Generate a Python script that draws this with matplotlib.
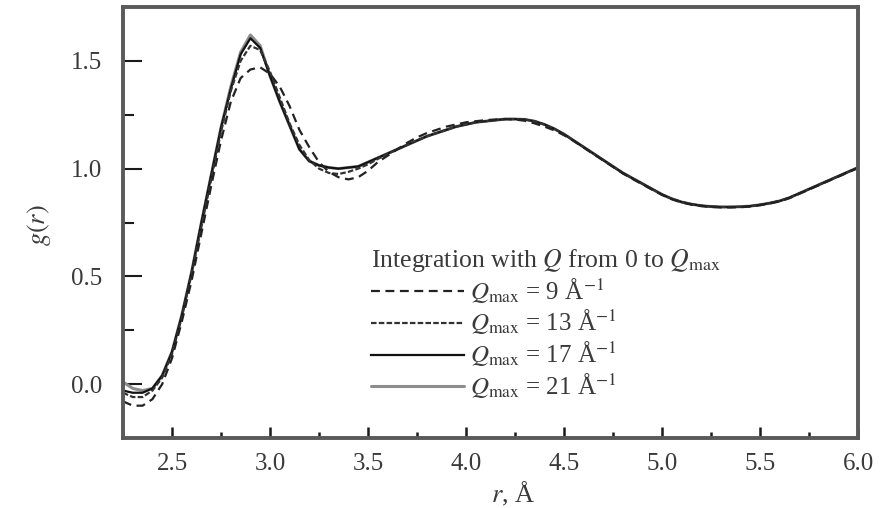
import matplotlib
matplotlib.use("Agg")
import matplotlib.pyplot as plt
from matplotlib.ticker import MultipleLocator, FormatStrFormatter

plt.rcParams["font.family"] = ["Liberation Serif", "DejaVu Serif"]
plt.rcParams["mathtext.fontset"] = "stix"

# radial distance grid, Å
r = [2.25, 2.30, 2.35, 2.40, 2.45, 2.50, 2.55, 2.60, 2.65, 2.70,
     2.75, 2.80, 2.85, 2.90, 2.95, 3.00, 3.05, 3.10, 3.15, 3.20,
     3.25, 3.30, 3.35, 3.40, 3.45, 3.50, 3.55, 3.60, 3.65, 3.70,
     3.75, 3.80, 3.85, 3.90, 3.95, 4.00, 4.05, 4.10, 4.15, 4.20,
     4.25, 4.30, 4.35, 4.40, 4.45, 4.50, 4.55, 4.60, 4.65, 4.70,
     4.75, 4.80, 4.85, 4.90, 4.95, 5.00, 5.05, 5.10, 5.15, 5.20,
     5.25, 5.30, 5.35, 5.40, 5.45, 5.50, 5.55, 5.60, 5.65, 5.70,
     5.75, 5.80, 5.85, 5.90, 5.95, 6.00]

g_q9 = [-0.08, -0.10, -0.10, -0.07, 0.00, 0.12, 0.29, 0.48, 0.70, 0.92,
        1.13, 1.31, 1.42, 1.46, 1.47, 1.44, 1.38, 1.29, 1.18, 1.10,
        1.03, 0.985, 0.96, 0.95, 0.96, 0.99, 1.03, 1.06, 1.09, 1.12,
        1.145, 1.165, 1.18, 1.195, 1.205, 1.215, 1.22, 1.225, 1.228, 1.23,
        1.228, 1.222, 1.21, 1.195, 1.178, 1.155, 1.128, 1.098, 1.068, 1.038,
        1.008, 0.978, 0.952, 0.927, 0.902, 0.878, 0.858, 0.843, 0.833, 0.826,
        0.822, 0.82, 0.82, 0.821, 0.824, 0.83, 0.838, 0.848, 0.863, 0.883,
        0.903, 0.923, 0.943, 0.963, 0.983, 1.003]

g_q13 = [-0.04, -0.06, -0.06, -0.03, 0.03, 0.14, 0.31, 0.51, 0.73, 0.95,
         1.17, 1.36, 1.50, 1.57, 1.55, 1.45, 1.33, 1.21, 1.11, 1.04,
         1.00, 0.98, 0.975, 0.985, 1.00, 1.02, 1.045, 1.068, 1.09, 1.11,
         1.13, 1.15, 1.165, 1.18, 1.195, 1.205, 1.215, 1.22, 1.225, 1.23,
         1.23, 1.228, 1.22, 1.205, 1.185, 1.16, 1.13, 1.10, 1.07, 1.04,
         1.01, 0.98, 0.955, 0.93, 0.905, 0.88, 0.86, 0.845, 0.835, 0.828,
         0.824, 0.822, 0.822, 0.823, 0.826, 0.832, 0.84, 0.85, 0.865, 0.885,
         0.905, 0.925, 0.945, 0.965, 0.985, 1.005]

g_q17 = [-0.03, -0.04, -0.04, -0.02, 0.04, 0.15, 0.32, 0.52, 0.75, 0.97,
         1.19, 1.37, 1.53, 1.605, 1.56, 1.43, 1.31, 1.20, 1.09, 1.035,
         1.015, 1.005, 1.00, 1.005, 1.01, 1.03, 1.05, 1.07, 1.09, 1.11,
         1.13, 1.15, 1.165, 1.18, 1.195, 1.205, 1.215, 1.22, 1.225, 1.23,
         1.23, 1.228, 1.22, 1.205, 1.185, 1.16, 1.13, 1.10, 1.07, 1.04,
         1.01, 0.98, 0.955, 0.93, 0.905, 0.88, 0.86, 0.845, 0.835, 0.828,
         0.824, 0.822, 0.822, 0.823, 0.826, 0.832, 0.84, 0.85, 0.865, 0.885,
         0.905, 0.925, 0.945, 0.965, 0.985, 1.005]

g_q21 = [0.01, -0.02, -0.03, -0.02, 0.04, 0.15, 0.32, 0.52, 0.75, 0.97,
         1.19, 1.38, 1.54, 1.62, 1.57, 1.43, 1.31, 1.20, 1.09, 1.035,
         1.015, 1.005, 1.00, 1.005, 1.01, 1.03, 1.05, 1.07, 1.09, 1.11,
         1.13, 1.15, 1.165, 1.18, 1.195, 1.205, 1.215, 1.22, 1.225, 1.23,
         1.23, 1.228, 1.22, 1.205, 1.185, 1.16, 1.13, 1.10, 1.07, 1.04,
         1.01, 0.98, 0.955, 0.93, 0.905, 0.88, 0.86, 0.845, 0.835, 0.828,
         0.824, 0.822, 0.822, 0.823, 0.826, 0.832, 0.84, 0.85, 0.865, 0.885,
         0.905, 0.925, 0.945, 0.965, 0.985, 1.005]

labels = [r"$Q_{\rm max}$ = 9 Å$^{-1}$",
          r"$Q_{\rm max}$ = 13 Å$^{-1}$",
          r"$Q_{\rm max}$ = 17 Å$^{-1}$",
          r"$Q_{\rm max}$ = 21 Å$^{-1}$"]
legend_title = r"Integration with $Q$ from 0 to $Q_{\rm max}$"

text_color = "#3a3a3a"
frame_color = "#5a5a5a"

fig = plt.figure(figsize=(8.88, 5.08), dpi=100)
ax = fig.add_axes([123 / 888, 1 - 438 / 508, 735 / 888, 431 / 508])

# draw the lightest curve first so the darker ones sit on top
l21, = ax.plot(r, g_q21, color="#8c8c8c", lw=2.2, solid_capstyle="round")
l17, = ax.plot(r, g_q17, color="#111111", lw=1.6)
l13, = ax.plot(r, g_q13, color="#333333", lw=1.6, dashes=(2.5, 1.0))
l9, = ax.plot(r, g_q9, color="#222222", lw=1.6, dashes=(4.0, 2.5))

ax.set_xlim(2.25, 6.0)
ax.set_ylim(-0.25, 1.75)

ax.xaxis.set_major_locator(MultipleLocator(0.5))
ax.xaxis.set_minor_locator(MultipleLocator(0.25))
ax.yaxis.set_major_locator(MultipleLocator(0.5))
ax.yaxis.set_minor_locator(MultipleLocator(0.25))
ax.xaxis.set_major_formatter(FormatStrFormatter("%.1f"))
ax.yaxis.set_major_formatter(FormatStrFormatter("%.1f"))

ax.tick_params(axis="both", which="both", direction="in", colors="#1a1a1a",
               labelcolor=text_color, labelsize=18, top=False, right=False)
ax.tick_params(axis="x", which="major", length=8, width=1.8, pad=11)
ax.tick_params(axis="x", which="minor", length=4, width=1.8)
ax.tick_params(axis="y", which="major", length=14, width=1.5, pad=15)
ax.tick_params(axis="y", which="minor", length=8, width=1.5)

for side in ("left", "right", "top", "bottom"):
    ax.spines[side].set_color(frame_color)
    ax.spines[side].set_linewidth(2.8)

ax.set_xlabel(r"$r$, Å", fontsize=19, color=text_color)
ax.xaxis.set_label_coords(0.531, -0.097)
ax.set_ylabel(r"$g(r)$", fontsize=19, color=text_color)
ax.yaxis.set_label_coords(-0.095, 0.494)

leg = ax.legend([l9, l13, l17, l21], labels, title=legend_title,
                loc="upper left", bbox_to_anchor=(0.338, 0.444),
                frameon=False, fontsize=18, title_fontsize=18.5,
                alignment="left", borderpad=0, borderaxespad=0,
                handlelength=3.7, handletextpad=0.25, labelspacing=0.1)
leg.get_title().set_color(text_color)
for t in leg.get_texts():
    t.set_color(text_color)

fig.savefig("out.png", dpi=100)
